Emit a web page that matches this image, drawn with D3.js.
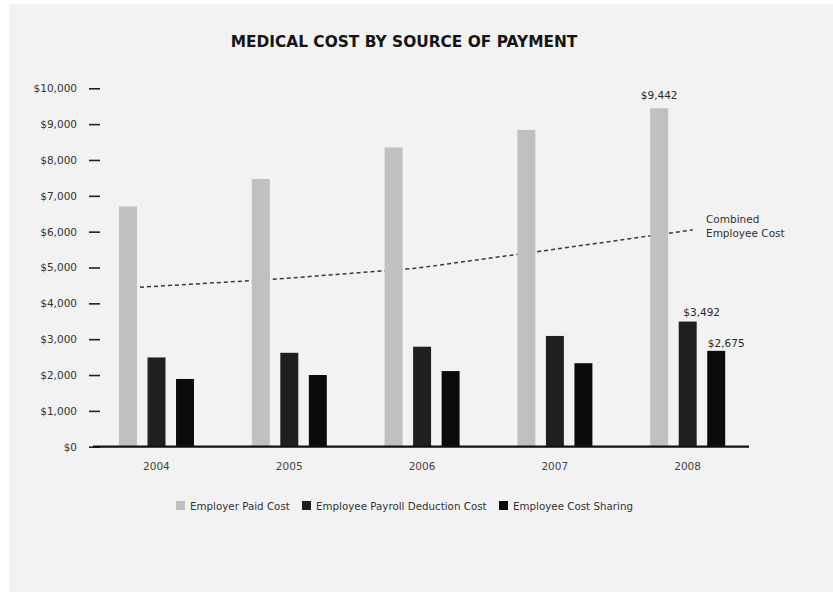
<!DOCTYPE html>
<html>
<head>
<meta charset="utf-8">
<script src="https://cdn.jsdelivr.net/npm/d3@7"></script>
<style>
  html, body { margin: 0; padding: 0; background: #ffffff; }
  svg { display: block; }
  text { font-family: "DejaVu Sans", sans-serif; }
</style>
</head>
<body>
<svg id="chart" width="833" height="592"></svg>
<script>
// ---- data ----
const years = ["2004", "2005", "2006", "2007", "2008"];
const seriesNames = ["Employer Paid Cost", "Employee Payroll Deduction Cost", "Employee Cost Sharing"];
const employerPaid = [6700, 7470, 8350, 8840, 9442];
const payrollDeduction = [2490, 2620, 2790, 3090, 3492];
const costSharing = [1890, 2000, 2110, 2330, 2675];
const combinedEmployee = [4450, 4680, 4980, 5510, 6050];
const yTicks = [0, 1000, 2000, 3000, 4000, 5000, 6000, 7000, 8000, 9000, 10000];
const labelledValues = [["Employer Paid Cost", "2008"], ["Employee Payroll Deduction Cost", "2008"], ["Employee Cost Sharing", "2008"]];

const seriesValues = [employerPaid, payrollDeduction, costSharing];
const colors = ["#c0c0c0", "#1f1f1f", "#0b0b0b"];

const svg = d3.select("#chart");
const W = 833, H = 592;

// panel background
svg.append("rect").attr("x", 0).attr("y", 0).attr("width", W).attr("height", H).attr("fill", "#ffffff");
svg.append("rect").attr("x", 9).attr("y", 4).attr("width", W - 9).attr("height", H - 4).attr("fill", "#f2f2f2");

// ---- scales ----
const y = d3.scaleLinear().domain([0, 10000]).range([446.7, 88.3]);
const x = d3.scaleBand().domain(years).range([90, 754]).padding(0);
const xInner = d3.scaleBand().domain(seriesNames).range([29, 104]).paddingInner(0.37).paddingOuter(0);
const xLine = d3.scaleLinear().domain([0, years.length - 1]).range([140, 693]);

// ---- title ----
svg.append("text")
  .attr("x", 404).attr("y", 46.5)
  .attr("text-anchor", "middle")
  .attr("font-size", 15.4)
  .attr("font-weight", "bold")
  .attr("fill", "#151515")
  .text("MEDICAL COST BY SOURCE OF PAYMENT");

// ---- y axis ----
const yAxis = d3.axisLeft(y)
  .tickValues(yTicks)
  .tickSize(11)
  .tickPadding(12)
  .tickFormat(d => "$" + d3.format(",")(d));
const gy = svg.append("g").attr("transform", "translate(100,0)").call(yAxis);
gy.select(".domain").remove();
gy.selectAll(".tick line").attr("stroke", "#222").attr("stroke-width", 1.6);
gy.selectAll(".tick text").attr("font-size", 10.5).attr("fill", "#333").attr("font-family", "DejaVu Sans, sans-serif");

// ---- combined employee cost line (drawn beneath the bars) ----
const line = d3.line().x((d, i) => xLine(i)).y(d => y(d));
svg.append("path")
  .datum(combinedEmployee)
  .attr("d", line)
  .attr("fill", "none")
  .attr("stroke", "#3a3a3a")
  .attr("stroke-width", 1.5)
  .attr("stroke-dasharray", "4,3");

svg.append("text")
  .attr("x", 706).attr("y", 0)
  .attr("font-size", 10.5)
  .attr("fill", "#333")
  .selectAll("tspan")
  .data(["Combined", "Employee Cost"])
  .join("tspan")
  .attr("x", 706)
  .attr("y", (d, i) => 223 + i * 14)
  .text(d => d);

// ---- bars ----
const groups = svg.append("g").selectAll("g")
  .data(years)
  .join("g")
  .attr("transform", d => `translate(${x(d)},0)`);

groups.selectAll("rect")
  .data((yr, i) => seriesNames.map((s, k) => ({ series: s, year: yr, value: seriesValues[k][i], k })))
  .join("rect")
  .attr("x", d => xInner(d.series))
  .attr("width", xInner.bandwidth())
  .attr("y", d => y(d.value))
  .attr("height", d => y(0) - y(d.value))
  .attr("fill", d => colors[d.k]);

// ---- value labels ----
const labelShift = { "Employer Paid Cost": [0, -9], "Employee Payroll Deduction Cost": [14, -5.5], "Employee Cost Sharing": [10, -3.5] };
svg.append("g").selectAll("text")
  .data(labelledValues)
  .join("text")
  .attr("x", d => x(d[1]) + xInner(d[0]) + xInner.bandwidth() / 2 + labelShift[d[0]][0])
  .attr("y", d => y(seriesValues[seriesNames.indexOf(d[0])][years.indexOf(d[1])]) + labelShift[d[0]][1])
  .attr("text-anchor", "middle")
  .attr("font-size", 10.5)
  .attr("fill", "#2a2a2a")
  .text(d => "$" + d3.format(",")(seriesValues[seriesNames.indexOf(d[0])][years.indexOf(d[1])]));

// ---- x axis ----
const xAxis = d3.axisBottom(x).tickSize(0).tickPadding(16);
const gx = svg.append("g").attr("transform", "translate(0,447)").call(xAxis);
gx.select(".domain").remove();
gx.selectAll(".tick text").attr("font-size", 10.5).attr("fill", "#444").attr("font-family", "DejaVu Sans, sans-serif");
svg.append("line")
  .attr("x1", 93).attr("x2", 749)
  .attr("y1", y(0)).attr("y2", y(0))
  .attr("stroke", "#111").attr("stroke-width", 2.2);

// ---- legend ----
const legendX = [176, 302, 499];
const legend = svg.append("g").selectAll("g")
  .data(seriesNames)
  .join("g")
  .attr("transform", (d, i) => `translate(${legendX[i]},501)`);
legend.append("rect")
  .attr("width", 9).attr("height", 9)
  .attr("fill", (d, i) => colors[i]);
legend.append("text")
  .attr("x", 14).attr("y", 8.8)
  .attr("font-size", 10.3)
  .attr("fill", "#333")
  .text(d => d);
</script>
</body>
</html>
